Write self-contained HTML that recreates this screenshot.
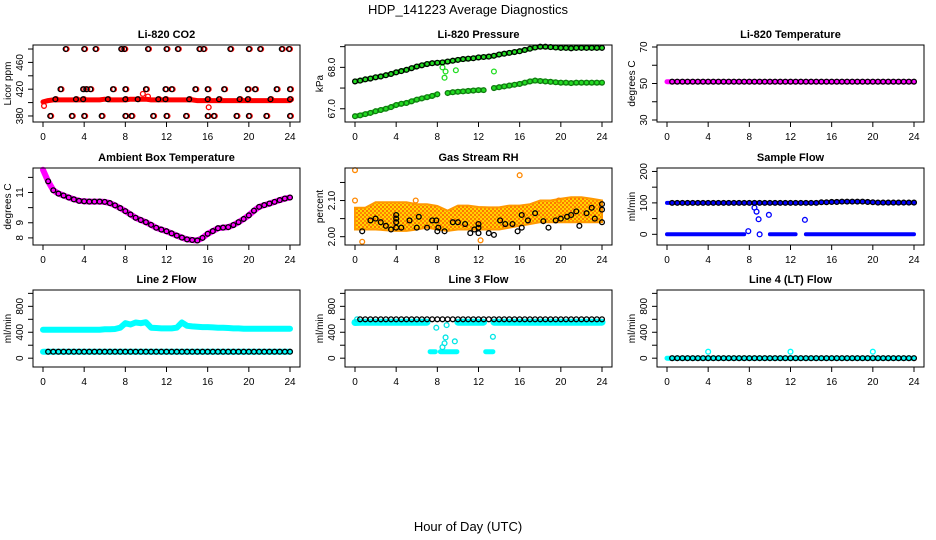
<!DOCTYPE html>
<html><head><meta charset="utf-8"><title>HDP_141223 Average Diagnostics</title>
<style>
html,body{margin:0;padding:0;background:#fff;}
svg{display:block;font-family:"Liberation Sans",sans-serif;}
</style></head>
<body>
<svg id="chart" width="936" height="540" viewBox="0 0 936 540" xmlns="http://www.w3.org/2000/svg">
<defs>
<pattern id="rhpat" width="4" height="4" patternUnits="userSpaceOnUse">
<rect width="4" height="4" fill="#ffd400"/>
<circle cx="1" cy="1" r="1" fill="#ff6a00"/>
<circle cx="3" cy="3" r="0.9" fill="#ff3300"/>
</pattern>
</defs>
<text x="468" y="14" font-size="13" text-anchor="middle">HDP_141223  Average Diagnostics</text>
<text x="468" y="531" font-size="13" text-anchor="middle">Hour of Day (UTC)</text>
</svg>
<script>
// ---- data ----
const H = [0,0.5,1,1.5,2,2.5,3,3.5,4,4.5,5,5.5,6,6.5,7,7.5,8,8.5,9,9.5,10,10.5,11,11.5,12,12.5,13,13.5,14,14.5,15,15.5,16,16.5,17,17.5,18,18.5,19,19.5,20,20.5,21,21.5,22,22.5,23,23.5,24];
const xTicks = [0,4,8,12,16,20,24];

// CO2
const co2Red = [401,403,404,404,404,404,404,404,404,404,404,404,405,404,404,404,404,405,405,405,405,404,404,404,404,404,404,404,404,404,403,403,403,403,403,403,403,403,403,403,403,403,403,403,403,403,403,403,403];
const co2RedOutH = [0.1,9.7,10.2,16.1];
const co2RedOutV = [395,413,409,393];
const co2H380 = [0.7,2.8,4,5.7,8,8.6,10.7,12,13.9,16,16.6,18.8,20,21.7,24];
const co2H405 = [1.2,3.2,3.9,6.3,8,9.2,11.2,11.9,14.2,16,17.1,19.1,19.9,22.1,24];
const co2H420 = [1.7,3.9,4.2,4.6,6.8,8,10,11.9,12.5,14.8,16,17.6,19.9,20.6,22.7,24];
const co2H480 = [2.2,4,5.1,7.6,7.9,10.2,12,13.1,15.2,15.6,18.2,20,21.1,23.2,23.9];

// Pressure
const presUpper = [67.66,67.68,67.71,67.73,67.76,67.78,67.81,67.84,67.88,67.91,67.94,67.98,68.02,68.05,68.08,68.10,68.11,68.12,68.14,68.16,68.18,68.20,68.21,68.22,68.24,68.25,68.26,68.28,68.31,68.33,68.35,68.37,68.39,68.42,68.45,68.48,68.50,68.50,68.49,68.48,68.47,68.47,68.46,68.47,68.47,68.47,68.47,68.47,68.47];
const presLower = [66.82,66.84,66.87,66.90,66.94,66.97,67.00,67.04,67.09,67.12,67.14,67.18,67.22,67.25,67.28,67.31,67.35,null,67.38,67.40,67.41,67.42,67.43,67.44,67.45,67.45,null,67.50,67.52,67.54,67.56,67.58,67.60,67.63,67.66,67.68,67.67,67.66,67.65,67.64,67.63,67.63,67.62,67.63,67.63,67.63,67.63,67.63,67.63];
const presOutH = [8.5,8.8,8.7,9.8,13.5];
const presOutV = [68.0,67.9,67.75,67.93,67.9];

// Temperature
const tempMag = [51,51,51,51,51,51,51,51,51,51,51,51,51,51,51,51,51,51,51,51,51,51,51,51,51,51,51,51,51,51,51,51,51,51,51,51,51,51,51,51,51,51,51,51,51,51,51,51,51];
const tempBlack = [51,51,51,51,51,51,51,51,51,51,51,51,51,51,51,51,51,51,51,51,51,51,51,51,51,51,51,51,51,51,51,51,51,51,51,51,51,51,51,51,51,51,51,51,51,51,51,51,51];

// Ambient box temperature
const ambient = [12.5,11.74,11.15,10.93,10.8,10.67,10.55,10.45,10.42,10.4,10.4,10.4,10.38,10.3,10.15,9.97,9.77,9.55,9.33,9.18,9.04,8.86,8.67,8.55,8.44,8.3,8.15,8.02,7.9,7.86,7.83,8.0,8.27,8.45,8.64,8.68,8.71,8.85,9.04,9.25,9.49,9.8,10.05,10.17,10.27,10.38,10.5,10.6,10.67];

// Gas stream RH
const rhBandH = [0,1,2,3,4,5,6,7,8,9,10,11,12,13,14,15,16,17,18,19,20,21,22,23,24];
const rhBandTop = [2.08,2.08,2.095,2.095,2.095,2.095,2.09,2.09,2.085,2.072,2.086,2.086,2.082,2.081,2.081,2.086,2.086,2.09,2.1,2.1,2.105,2.109,2.109,2.105,2.1];
const rhBandBot = [2.02,2.02,2.02,2.018,2.016,2.016,2.02,2.025,2.02,2.016,2.02,2.02,2.02,2.02,2.02,2.025,2.03,2.035,2.04,2.04,2.04,2.04,2.04,2.04,2.04];
const rhOutH = [0,16,0.7,12.2,0,5.9,19.8];
const rhOutV = [2.184,2.17,1.986,1.99,2.10,2.10,2.10];
const rhBlackH = [0.7,1.5,2,2.5,3,3.5,4,4,4,4,4.5,5.3,6,6.2,7,7.5,7.9,8,8.1,8.7,9.5,10,10.7,11.2,11.6,12,12,12,13,13.5,14.1,14.6,15.3,15.8,16.2,16.2,16.8,17.5,18.3,18.8,19.5,20,20.6,21,21.5,21.8,22.5,23,23.3,24,24,24];
const rhBlackV = [2.015,2.045,2.05,2.04,2.03,2.02,2.06,2.05,2.04,2.025,2.025,2.045,2.025,2.055,2.025,2.045,2.045,2.015,2.025,2.015,2.04,2.04,2.035,2.01,2.02,2.035,2.01,2.025,2.01,2.005,2.045,2.035,2.035,2.015,2.025,2.06,2.045,2.065,2.043,2.025,2.045,2.05,2.055,2.06,2.07,2.03,2.065,2.08,2.05,2.04,2.09,2.075];

// Sample flow
const sampleBlue = [100,100,100,100,100,100,100,100,100,100,100,100,100,100,100,100,100,100,100,100,100,100,100,100,100,100,100,100,100,100,102,102,103,103,104,104,104,104,104,103,102,101,101,101,101,101,101,101,101];
const sampleBlack = [100,100,100,100,100,100,100,100,100,100,100,100,100,100,100,100,100,100,100,100,100,100,100,100,100,100,100,100,100,100,102,102,103,103,104,104,104,104,104,103,102,101,101,101,101,101,101,101,101];
const sampleLow = [0,0,0,0,0,0,0,0,0,0,0,0,0,0,0,0,null,null,null,null,0,0,0,0,0,0,null,0,0,0,0,0,0,0,0,0,0,0,0,0,0,0,0,0,0,0,0,0,0];
const sampleOutH = [7.9,8.5,8.7,8.9,9.0,9.9,13.4];
const sampleOutV = [10,85,72,48,0,62,46];

// Line 2 flow
const line2Upper = [440,440,440,440,440,440,440,440,440,440,440,440,445,445,450,470,540,520,550,540,555,470,465,460,460,460,470,550,500,490,485,480,480,475,470,470,465,460,460,455,455,455,455,455,455,455,455,455,455];
const line2Lower = [100,100,100,100,100,100,100,100,100,100,100,100,100,100,100,100,100,100,100,100,100,100,100,100,100,100,100,100,100,100,100,100,100,100,100,100,100,100,100,100,100,100,100,100,100,100,100,100,100];
const line2Black = [100,100,100,100,100,100,100,100,100,100,100,100,100,100,100,100,100,100,100,100,100,100,100,100,100,100,100,100,100,100,100,100,100,100,100,100,100,100,100,100,100,100,100,100,100,100,100,100,100];

// Line 3 flow
const line3Cyan = [550,555,555,555,555,555,555,555,555,555,555,555,555,555,555,null,null,null,null,null,555,555,555,555,555,555,null,555,555,555,555,555,555,555,555,555,555,555,555,555,555,555,555,555,555,555,555,555,555];
const line3LowH = [7.3,7.8,7.85,8.3,9.9,9.95,12.7,13.4];
const line3LowV = [100,100,null,100,100,null,100,100];
const line3Black = [null,600,600,600,600,600,600,600,600,600,600,600,600,600,600,600,600,600,600,600,600,600,600,600,600,600,600,600,600,600,600,600,600,600,600,600,600,600,600,600,600,600,600,600,600,600,600,600,600];
const line3OutH = [7.9,8.5,8.7,8.8,8.9,9.7,13.4,0.2];
const line3OutV = [470,170,230,320,510,260,330,600];

// Line 4 flow
const line4Cyan = [0,0,0,0,0,0,0,0,0,0,0,0,0,0,0,0,0,0,0,0,0,0,0,0,0,0,0,0,0,0,0,0,0,0,0,0,0,0,0,0,0,0,0,0,0,0,0,0,0];
const line4Black = [null,0,0,0,0,0,0,0,0,0,0,0,0,0,0,0,0,0,0,0,0,0,0,0,0,0,0,0,0,0,0,0,0,0,0,0,0,0,0,0,0,0,0,0,0,0,0,0,0];
const line4SpikeH = [4,12,20];
const line4SpikeV = [100,100,100];

// ---- layout ----
const NS = 'http://www.w3.org/2000/svg';
const svg = document.getElementById('chart');
const COLX = [33,345,657];
const ROWY = [45,168,290];
const BW = 267, BH = 77;

function el(tag, parent){ const e = document.createElementNS(NS, tag); parent.appendChild(e); return e; }

function makePanel(p){
  const L = COLX[p.col], T = ROWY[p.row];
  const g = el('g', svg);
  
  
  const x = h => L + 10 + h * 247 / 24;
  const y = v => T + BH - (v - p.domain[0]) / (p.domain[1] - p.domain[0]) * BH;
  const marks = el('g', g);
  
  
  const box = el('rect', g);
  box.setAttribute('x', L); box.setAttribute('y', T); box.setAttribute('width', BW); box.setAttribute('height', BH);
  box.setAttribute('fill', 'none'); box.setAttribute('stroke', '#000'); box.setAttribute('stroke-width', '1');
  
  
  xTicks.forEach(t => {
    const ln = el('line', g);
    ln.setAttribute('x1', x(t)); ln.setAttribute('x2', x(t)); ln.setAttribute('y1', T + BH); ln.setAttribute('y2', T + BH + 5);
    ln.setAttribute('stroke', '#000');
    
    
    const tx = el('text', g);
    tx.setAttribute('x', x(t)); tx.setAttribute('y', T + BH + 18);
    tx.setAttribute('font-size', '10'); tx.setAttribute('text-anchor', 'middle');
    tx.textContent = t;
    
    
  });
  p.ticks.forEach(t => {
    const ln = el('line', g);
    ln.setAttribute('x1', L - 5); ln.setAttribute('x2', L); ln.setAttribute('y1', y(t)); ln.setAttribute('y2', y(t));
    ln.setAttribute('stroke', '#000');
    
    
  });
  p.labels.forEach(t => {
    const tx = el('text', g);
    tx.setAttribute('transform', 'translate(' + (L - 10) + ',' + y(t) + ') rotate(-90)');
    tx.setAttribute('font-size', '10'); tx.setAttribute('text-anchor', 'middle');
    tx.textContent = p.fmt ? t.toFixed(p.fmt) : t;
    
    
  });
  const ti = el('text', g);
  ti.setAttribute('x', L + BW / 2); ti.setAttribute('y', T - 7);
  ti.setAttribute('font-size', '11'); ti.setAttribute('font-weight', 'bold'); ti.setAttribute('text-anchor', 'middle');
  ti.textContent = p.title;
  
  
  const yl = el('text', g);
  yl.setAttribute('transform', 'translate(' + (L - 22) + ',' + (T + BH / 2) + ') rotate(-90)');
  yl.setAttribute('font-size', '10'); yl.setAttribute('text-anchor', 'middle');
  yl.textContent = p.ylab;
  
  
  return {g: marks, x, y};
}

function line(P, hs, vs, color, w, name){
  let d = '', pen = false;
  for (let i = 0; i < hs.length; i++){
    if (vs[i] === null || vs[i] === undefined){ pen = false; continue; }
    d += (pen ? 'L' : 'M') + P.x(hs[i]).toFixed(1) + ' ' + P.y(vs[i]).toFixed(1);
    if (!pen && (i + 1 >= hs.length || vs[i + 1] === null)) d += 'l0.1 0';
    pen = true;
  }
  const pa = el('path', P.g);
  pa.setAttribute('d', d); pa.setAttribute('fill', 'none'); pa.setAttribute('stroke', color);
  pa.setAttribute('stroke-width', w); pa.setAttribute('stroke-linecap', 'round'); pa.setAttribute('stroke-linejoin', 'round');
  
  
}

function circles(P, hs, vs, color, name, dx){
  for (let i = 0; i < hs.length; i++){
    if (vs[i] === null || vs[i] === undefined) continue;
    const c = el('circle', P.g);
    c.setAttribute('cx', P.x(hs[i]) + (dx || 0)); c.setAttribute('cy', P.y(vs[i]));
    c.setAttribute('r', '2.4'); c.setAttribute('fill', 'none'); c.setAttribute('stroke', color); c.setAttribute('stroke-width', '1.3');
    
    
  }
}
function repeat(hs, v){ return hs.map(() => v); }

// Panel 1: CO2
const p1 = makePanel({name:'co2-panel', col:0, row:0, title:'Li-820 CO2', ylab:'Licor ppm', domain:[371,486], ticks:[380,400,420,440,460,480], labels:[380,420,460]});
line(p1, H, co2Red, '#ff0000', 5, 'co2-red-series');
circles(p1, co2RedOutH, co2RedOutV, '#ff0000', 'co2-red-outlier');
[[co2H380,380],[co2H405,405],[co2H420,420],[co2H480,480]].forEach(([hs, v]) => {
  circles(p1, hs, repeat(hs, v), '#ff0000', 'co2-red-point', 1);
  circles(p1, hs, repeat(hs, v), '#000000', 'co2-black-point');
});

// Panel 2: Pressure
const p2 = makePanel({name:'pressure-panel', col:1, row:0, title:'Li-820 Pressure', ylab:'kPa', domain:[66.68,68.54], ticks:[67.0,67.5,68.0,68.5], labels:[67.0,68.0], fmt:1});
line(p2, H, presUpper, '#22dd22', 5, 'pressure-upper-green');
line(p2, H, presLower, '#22dd22', 5, 'pressure-lower-green');
circles(p2, H, presLower, '#117711', 'pressure-lower-point');
circles(p2, presOutH, presOutV, '#22dd22', 'pressure-outlier');
circles(p2, H, presUpper, '#000000', 'pressure-black-point');

// Panel 3: Temperature
const p3 = makePanel({name:'temperature-panel', col:2, row:0, title:'Li-820 Temperature', ylab:'degrees C', domain:[28.9,71.1], ticks:[30,40,50,60,70], labels:[30,50,70]});
line(p3, H, tempMag, '#ff00ff', 5, 'temperature-magenta');
circles(p3, H.slice(1), tempBlack.slice(1), '#000000', 'temperature-black-point');

// Panel 4: Ambient
const p4 = makePanel({name:'ambient-panel', col:0, row:1, title:'Ambient Box Temperature', ylab:'degrees C', domain:[7.53,12.62], ticks:[8,9,10,11,12], labels:[8,9,11]});
line(p4, H, ambient, '#ff00ff', 6, 'ambient-magenta');
circles(p4, H.slice(1), ambient.slice(1), '#000000', 'ambient-black-point');

// Panel 5: RH
const p5 = makePanel({name:'rh-panel', col:1, row:1, title:'Gas Stream RH', ylab:'percent', domain:[1.977,2.19], ticks:[2.00,2.05,2.10,2.15], labels:[2.00,2.10], fmt:2});
(function(){
  let d = '';
  rhBandH.forEach((h, i) => { d += (i ? 'L' : 'M') + p5.x(h).toFixed(1) + ' ' + p5.y(rhBandTop[i]).toFixed(1); });
  for (let i = rhBandH.length - 1; i >= 0; i--) d += 'L' + p5.x(rhBandH[i]).toFixed(1) + ' ' + p5.y(rhBandBot[i]).toFixed(1);
  d += 'Z';
  const pa = el('path', p5.g);
  pa.setAttribute('d', d); pa.setAttribute('fill', 'url(#rhpat)'); pa.setAttribute('stroke', '#ff9900'); pa.setAttribute('stroke-width', '2');
  
  
})();
circles(p5, rhOutH, rhOutV, '#ff8800', 'rh-outlier');
circles(p5, rhBlackH, rhBlackV, '#000000', 'rh-black-point');

// Panel 6: Sample flow
const p6 = makePanel({name:'sample-flow-panel', col:2, row:1, title:'Sample Flow', ylab:'ml/min', domain:[-34,211], ticks:[0,50,100,150,200], labels:[0,100,200]});
line(p6, H, sampleBlue, '#0000ff', 4, 'sample-blue-upper');
line(p6, H, sampleLow, '#0000ff', 4, 'sample-blue-lower');
circles(p6, sampleOutH, sampleOutV, '#0000ff', 'sample-outlier');
circles(p6, H.slice(1), sampleBlack.slice(1), '#000000', 'sample-black-point');

// Panel 7: Line 2
const p7 = makePanel({name:'line2-panel', col:0, row:2, title:'Line 2 Flow', ylab:'ml/min', domain:[-136,1052], ticks:[0,200,400,600,800,1000], labels:[0,400,800]});
line(p7, H, line2Upper, '#00ffff', 6, 'line2-cyan-upper');
line(p7, H, line2Lower, '#00ffff', 6, 'line2-cyan-lower');
circles(p7, H.slice(1), line2Black.slice(1), '#000000', 'line2-black-point');

// Panel 8: Line 3
const p8 = makePanel({name:'line3-panel', col:1, row:2, title:'Line 3 Flow', ylab:'ml/min', domain:[-136,1052], ticks:[0,200,400,600,800,1000], labels:[0,400,800]});
line(p8, H, line3Cyan, '#00ffff', 7, 'line3-cyan');
line(p8, line3LowH, line3LowV, '#00ffff', 5, 'line3-cyan-low');
circles(p8, line3OutH, line3OutV, '#00e5e5', 'line3-outlier');
circles(p8, H, line3Black, '#000000', 'line3-black-point');

// Panel 9: Line 4
const p9 = makePanel({name:'line4-panel', col:2, row:2, title:'Line 4 (LT) Flow', ylab:'ml/min', domain:[-136,1052], ticks:[0,200,400,600,800,1000], labels:[0,400,800]});
line(p9, H, line4Cyan, '#00ffff', 5, 'line4-cyan');
circles(p9, line4SpikeH, line4SpikeV, '#00ffff', 'line4-spike');
circles(p9, H, line4Black, '#000000', 'line4-black-point');
</script>
</body></html>
